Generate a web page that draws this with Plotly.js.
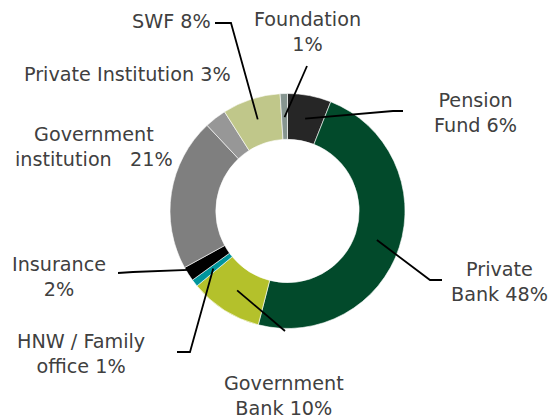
<!DOCTYPE html>
<html>
<head>
<meta charset="utf-8">
<script src="https://cdn.plot.ly/plotly-3.0.1.min.js"></script>
<style>html,body{margin:0;padding:0;background:#fff;}#chart{width:552px;height:419px;}</style>
</head>
<body>
<div id="chart"></div>
<script>
// ---- data ----
const categories = ["Pension Fund", "Private Bank", "Government Bank", "HNW / Family office", "Insurance", "Government institution", "Private Institution", "SWF", "Foundation"];
const shares = [6, 48, 10, 1, 2, 21, 3, 8, 1];
const sliceColors = ["#262626", "#024a2b", "#b4c12b", "#00959c", "#000000", "#7f7f7f", "#979797", "#c0c78a", "#869590"];
// label text lines ("{v}" replaced by the share)
const labelTemplates = ["Pension<br>Fund {v}%", "Private<br>Bank {v}%", "Government<br>Bank {v}%", "HNW / Family<br>office {v}%", "Insurance<br>{v}%", "Government<br>institution   {v}%", "Private Institution {v}%", "SWF {v}%", "Foundation<br>{v}%"];

// ---- layout (pixels) ----
const W = 552, H = 419;
const CX = 287.5, CY = 211, R = 117.5, HOLE = 0.61;
// label centre and leader-line bend points (pixels), anchor radius fraction
const labelPos = [
  {x: 475, y: 113, path: [[393, 111], [403, 111]], r: 0.80},
  {x: 499, y: 282, path: [[430, 280], [442, 280]], r: 0.80},
  {x: 284, y: 396, path: [[285, 331]], r: 0.80},
  {x: 81, y: 354, path: [[190, 352], [177, 352]], r: 0.80},
  {x: 59, y: 277, path: [[133, 272], [118, 273]], r: 0.93},
  {x: 94, y: 147, path: null, r: 0.8},
  {x: 127, y: 74, path: null, r: 0.8},
  {x: 171, y: 21, path: [[231, 23], [215, 23]], r: 0.82},
  {x: 307, y: 32, path: [[307, 66]], r: 0.80}
];

const px = x => x / W;
const py = y => 1 - y / H;

const total = shares.reduce((a, b) => a + b, 0);
let cum = 0;
const annotations = [];
const shapes = [];
shares.forEach((v, i) => {
  const mid = (cum + v / 2) / total;
  cum += v;
  const ang = mid * 2 * Math.PI; // clockwise from 12 o'clock
  const lp = labelPos[i];
  annotations.push({
    x: px(lp.x), y: py(lp.y), xref: 'paper', yref: 'paper',
    text: labelTemplates[i].replace('{v}', v), showarrow: false,
    xanchor: 'center', yanchor: 'middle', align: 'center',
    font: {family: 'DejaVu Sans, sans-serif', size: 19.2, color: '#404040'}
  });
  if (lp.path) {
    const ax = CX + R * lp.r * Math.sin(ang);
    const ay = CY - R * lp.r * Math.cos(ang);
    let d = `M ${px(ax)},${py(ay)}`;
    lp.path.forEach(p => { d += ` L ${px(p[0])},${py(p[1])}`; });
    shapes.push({type: 'path', xref: 'paper', yref: 'paper', path: d,
      line: {color: '#000000', width: 1.8}});
  }
});

const trace = {
  type: 'pie',
  labels: categories,
  values: shares,
  sort: false,
  direction: 'clockwise',
  rotation: 0,
  hole: HOLE,
  textinfo: 'none',
  hoverinfo: 'label+percent',
  marker: {colors: sliceColors, line: {color: '#ffffff', width: 0.6}},
  domain: {x: [px(CX - R), px(CX + R)], y: [py(CY + R), py(CY - R)]},
  showlegend: false
};

Plotly.newPlot('chart', [trace], {
  width: W, height: H,
  margin: {l: 0, r: 0, t: 0, b: 0},
  paper_bgcolor: '#ffffff',
  showlegend: false,
  annotations: annotations,
  shapes: shapes
}, {displayModeBar: false, staticPlot: true});
</script>
</body>
</html>
